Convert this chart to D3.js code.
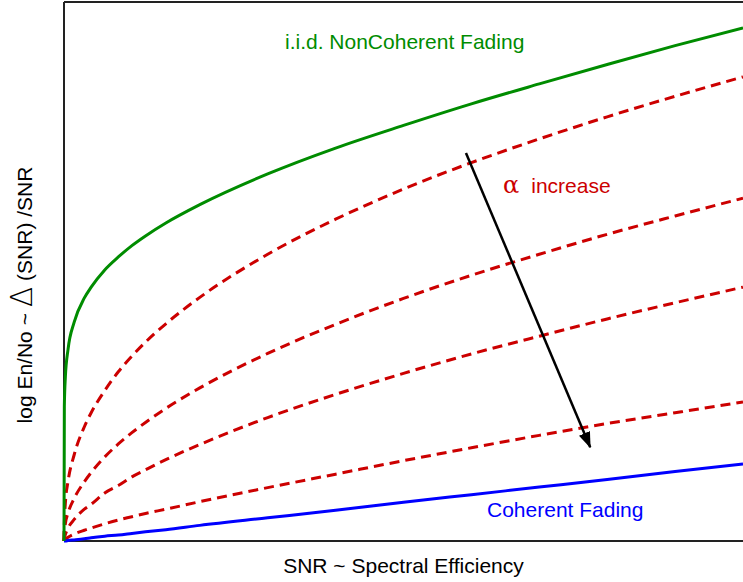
<!DOCTYPE html>
<html>
<head>
<meta charset="utf-8">
<script src="https://cdn.jsdelivr.net/npm/d3@7"></script>
<style>
  body { margin: 0; background: #fff; }
  svg { display: block; font-family: "Liberation Sans", Arial, sans-serif; }
</style>
</head>
<body>
<div id="chart"></div>
<script>
// SNR grid (x, 0..1) shared by every curve
const snr = [0, 0.0005, 0.002, 0.006, 0.015, 0.03, 0.04, 0.06, 0.08, 0.1, 0.12, 0.15, 0.2, 0.3, 0.4, 0.5, 0.6, 0.7, 0.8, 0.9, 1];

// log En/No values (0..100)
const nonCoherent = [0, 25.0, 30.4, 35.6, 40.6, 45.1, 47.1, 50.3, 52.7, 54.8, 56.6, 59.0, 62.4, 68.1, 72.9, 77.1, 81.1, 84.8, 88.4, 91.9, 95.2];
const alpha1 = [0, 3.2, 7.0, 11.1, 16.0, 21.2, 23.8, 27.9, 31.4, 34.3, 36.9, 40.3, 45.2, 53.2, 59.7, 65.3, 70.2, 74.6, 78.7, 82.5, 86.1];
const alpha2 = [0, 1.6, 3.2, 5.2, 7.9, 11.0, 12.7, 15.6, 18.0, 20.1, 22.0, 24.6, 28.4, 34.8, 40.2, 45.0, 49.3, 53.2, 56.9, 60.3, 63.6];
const alpha3 = [0, 0.5, 1.2, 2.4, 4.0, 5.9, 6.8, 8.9, 10.3, 11.9, 13.2, 15.1, 17.9, 22.9, 27.2, 31.1, 34.7, 38.0, 41.2, 44.2, 47.1];
const alpha4 = [0, 0.15, 0.3, 0.7, 1.3, 2.0, 2.4, 3.2, 3.9, 4.5, 5.1, 5.9, 7.3, 9.9, 12.4, 14.9, 17.3, 19.6, 21.8, 23.8, 25.8];
const coherent = [0, 0.0, 0.0, 0.1, 0.2, 0.4, 0.6, 0.9, 1.1, 1.4, 1.7, 2.1, 2.9, 4.3, 5.7, 7.2, 8.6, 10.0, 11.4, 12.9, 14.3];

// arrow "alpha increase": [snr, value] start and end
const arrowFrom = [0.592, 72.0];
const arrowTo = [0.775, 17.4];

const width = 743;
const height = 582;
const margin = { top: 2, right: 0, bottom: 41, left: 64 };

const svg = d3.select("#chart")
.append("svg")
.attr("width", width)
.attr("height", height);

const x = d3.scaleLinear()
.domain([0, 1])
.range([margin.left, width - margin.right]);

const y = d3.scaleLinear()
.domain([0, 100])
.range([height - margin.bottom, margin.top]);

const line = d3.line()
.x(d => x(d[0]))
.y(d => y(d[1]))
.curve(d3.curveMonotoneX);

const series = [
    { values: alpha1, color: "#cc0000", dash: "10,6" },
    { values: alpha2, color: "#cc0000", dash: "10,6" },
    { values: alpha3, color: "#cc0000", dash: "10,6" },
    { values: alpha4, color: "#cc0000", dash: "10,6" },
    { values: coherent, color: "#0000ff", dash: null },
    { values: nonCoherent, color: "#008c00", dash: null }
];

// frame: left, top and bottom lines only
const frame = svg.append("g")
.attr("stroke", "#222")
.attr("stroke-width", 2);

frame.append("line")
.attr("x1", x(0)).attr("x2", x(0))
.attr("y1", y(100)).attr("y2", y(0));
frame.append("line")
.attr("x1", x(0)).attr("x2", x(1))
.attr("y1", y(100)).attr("y2", y(100));
frame.append("line")
.attr("x1", x(0)).attr("x2", x(1))
.attr("y1", y(0)).attr("y2", y(0));

// curves
svg.append("g")
.selectAll("path")
.data(series)
.enter()
.append("path")
.attr("d", s => line(snr.map((v, i) => [v, s.values[i]])))
.attr("fill", "none")
.attr("stroke", s => s.color)
.attr("stroke-width", 3)
.attr("stroke-dasharray", s => s.dash);

// arrow
svg.append("defs")
.append("marker")
.attr("id", "head")
.attr("markerUnits", "userSpaceOnUse")
.attr("markerWidth", 16)
.attr("markerHeight", 12)
.attr("refX", 15)
.attr("refY", 6)
.attr("orient", "auto")
.append("path")
.attr("d", "M0,0 L16,6 L0,12 Z")
.attr("fill", "#000");

svg.append("line")
.attr("x1", x(arrowFrom[0]))
.attr("y1", y(arrowFrom[1]))
.attr("x2", x(arrowTo[0]))
.attr("y2", y(arrowTo[1]))
.attr("stroke", "#000")
.attr("stroke-width", 2.5)
.attr("marker-end", "url(#head)");

// labels
svg.append("text")
.attr("x", 285)
.attr("y", 49)
.attr("fill", "#008c00")
.attr("font-size", 21)
.text("i.i.d. NonCoherent Fading");

svg.append("text")
.attr("x", 487)
.attr("y", 517)
.attr("fill", "#0000ff")
.attr("font-size", 21)
.text("Coherent Fading");

const alphaLabel = svg.append("text")
.attr("x", 503)
.attr("y", 193)
.attr("fill", "#cc0000")
.attr("font-size", 21);
alphaLabel.append("tspan")
.attr("font-family", "DejaVu Serif, serif")
.attr("font-size", 24)
.text("α");
alphaLabel.append("tspan")
.attr("dx", 12)
.text("increase");

svg.append("text")
.attr("x", x(0.5))
.attr("y", 573)
.attr("text-anchor", "middle")
.attr("fill", "#000")
.attr("font-size", 21)
.text("SNR ~ Spectral Efficiency");

const yLabel = svg.append("text")
.attr("transform", "translate(32,295) rotate(-90)")
.attr("text-anchor", "middle")
.attr("fill", "#000")
.attr("font-size", 21);
yLabel.append("tspan").text("log En/No ~ ");
yLabel.append("tspan")
.attr("font-family", "DejaVu Sans, sans-serif")
.attr("font-weight", 200)
.attr("font-size", 30)
.text("Δ");
yLabel.append("tspan").text(" (SNR) /SNR");
</script>
</body>
</html>
